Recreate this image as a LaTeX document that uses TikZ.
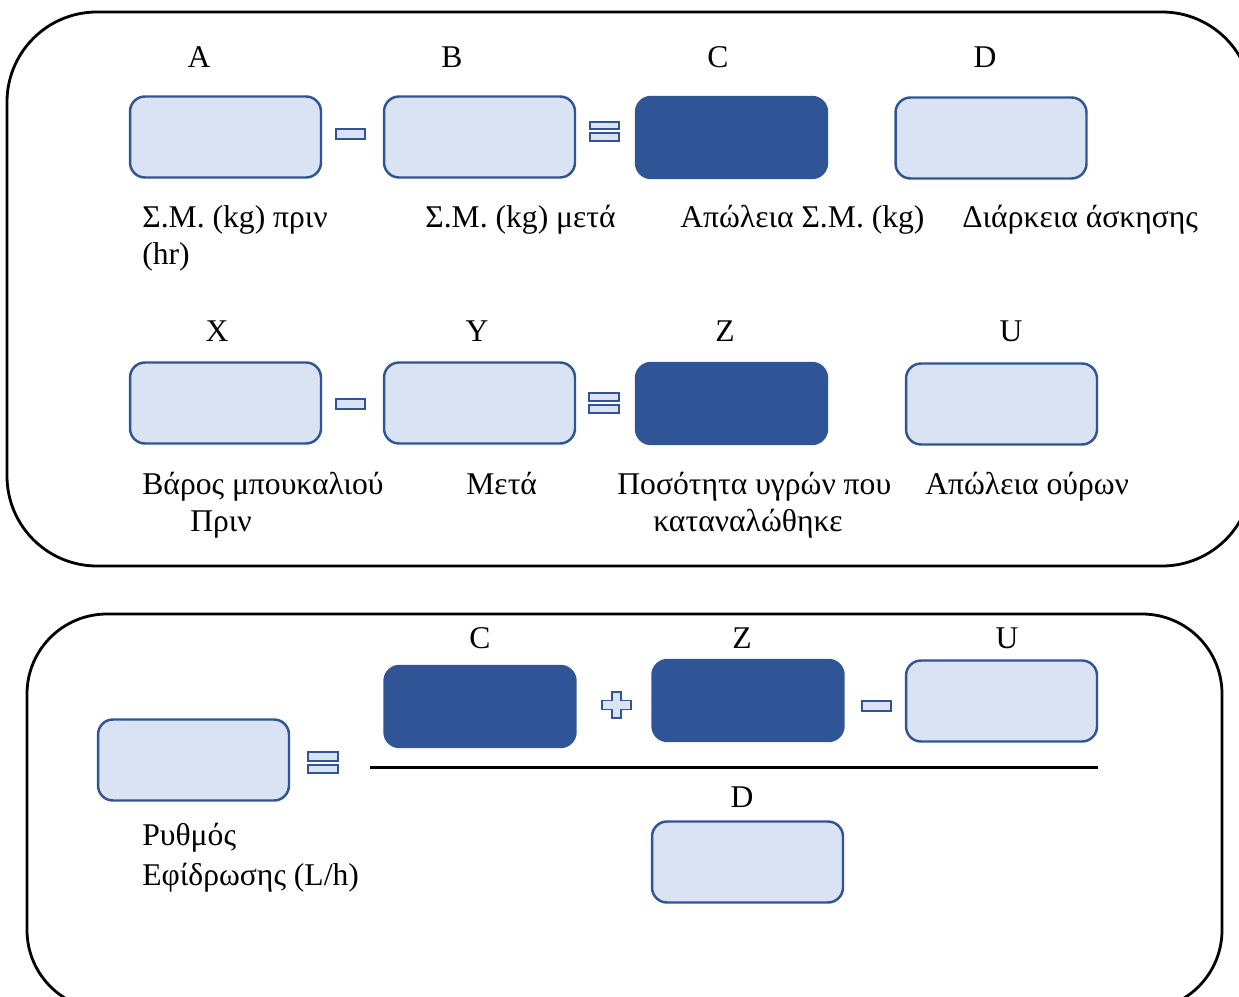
\documentclass[tikz,border=0pt]{standalone}
\usepackage{fontspec}
\setmainfont{Liberation Serif}
\definecolor{boxfill}{HTML}{DAE3F3}
\definecolor{boxline}{HTML}{2F5597}
\newcommand{\lblfont}{\fontsize{18}{21}\selectfont}

\begin{document}
\begin{tikzpicture}[x=0.02cm,y=-0.02cm,
    lightbox/.style={draw=boxline,fill=boxfill,line width=1.4pt,rounded corners=0.3cm,
                     minimum width=3.82cm,minimum height=1.62cm,inner sep=0},
    darkbox/.style={lightbox,fill=boxline},
    opbar/.style={draw=boxline,fill=boxfill,line width=1.1pt},
    frame/.style={draw=black,line width=1.6pt},
    ltr/.style={anchor=base,inner sep=0,font=\lblfont},
    lbl/.style={anchor=base west,inner sep=0,font=\lblfont}]
      \useasboundingbox (0,0) rectangle (1239,996);
      % frames
      \draw[frame,rounded corners=1.8cm] (7,12) rectangle (1252,566);
      \draw[frame,rounded corners=1.6cm] (27,614) rectangle (1222,1010);
      % first row
      \node[lightbox] (boxA) at (225.5,137) {};
      \node[lightbox] (boxB) at (479.5,137) {};
      \node[darkbox]  (boxC) at (731.5,137.5) {};
      \node[lightbox] (boxD) at (991,138) {};
      \filldraw[opbar] (336,129) rectangle (365,139);
      \filldraw[opbar] (590,122) rectangle (619,129);
      \filldraw[opbar] (590,133) rectangle (619,141);
      \node[ltr] (ltrA) at (199,68) {A};
      \node[ltr] (ltrB) at (452,68) {B};
      \node[ltr] (ltrC) at (718,68) {C};
      \node[ltr] (ltrD) at (985,68) {D};
      \node[lbl] (lblA)  at (142,228) {Σ.Μ. (kg) πριν};
      \node[lbl] (lblAb) at (142,265) {(hr)};
      \node[lbl] (lblB)  at (425,228) {Σ.Μ. (kg) μετά};
      \node[lbl] (lblC)  at (680,228) {Απώλεια Σ.Μ. (kg)};
      \node[lbl] (lblD)  at (962,228) {Διάρκεια άσκησης};
      % second row
      \node[lightbox] (boxX) at (225.5,403) {};
      \node[lightbox] (boxY) at (479.5,403) {};
      \node[darkbox]  (boxZ) at (731.5,403.5) {};
      \node[lightbox] (boxU) at (1001.5,404) {};
      \filldraw[opbar] (336,399) rectangle (365,409);
      \filldraw[opbar] (589,393) rectangle (619,401);
      \filldraw[opbar] (589,405) rectangle (619,413);
      \node[ltr] (ltrX) at (217,341) {X};
      \node[ltr] (ltrY) at (477,341) {Y};
      \node[ltr] (ltrZ) at (725,341) {Z};
      \node[ltr] (ltrU) at (1011,341) {U};
      \node[lbl] (lblX)  at (142,494) {Βάρος μπουκαλιού};
      \node[lbl] (lblXb) at (190,531) {Πριν};
      \node[lbl] (lblY)  at (466,494) {Μετά};
      \node[lbl] (lblZ)  at (617,494) {Ποσότητα υγρών που};
      \node[ltr] (lblZb) at (748,531) {καταναλώθηκε};
      \node[lbl] (lblU)  at (925,494) {Απώλεια ούρων};
      % rate
      \node[lightbox] (boxR)  at (193.5,760) {};
      \node[darkbox]  (boxC2) at (480,706.5) {};
      \node[darkbox]  (boxZ2) at (748,700.5) {};
      \node[lightbox] (boxU2) at (1001.5,701) {};
      \node[lightbox] (boxD2) at (747.5,862) {};
      \filldraw[opbar] (308,752) rectangle (338,761);
      \filldraw[opbar] (308,765) rectangle (338,773);
      \filldraw[opbar] (612,692) -- (621,692) -- (621,700.5) -- (631,700.5) -- (631,709.5)
                       -- (621,709.5) -- (621,718) -- (612,718) -- (612,709.5) -- (602,709.5)
                       -- (602,700.5) -- (612,700.5) -- cycle;
      \filldraw[opbar] (862,701) rectangle (891,711);
      \draw[line width=1.7pt] (370,767) -- (1098,767);
      \node[ltr] (ltrC2) at (480,648) {C};
      \node[ltr] (ltrZ2) at (742,648) {Z};
      \node[ltr] (ltrU2) at (1007,648) {U};
      \node[ltr] (ltrD2) at (742,807) {D};
      \node[lbl] (lblR)  at (142,845) {Ρυθμός};
      \node[lbl] (lblRb) at (142,885) {Εφίδρωσης (L/h)};
\end{tikzpicture}
\end{document}
